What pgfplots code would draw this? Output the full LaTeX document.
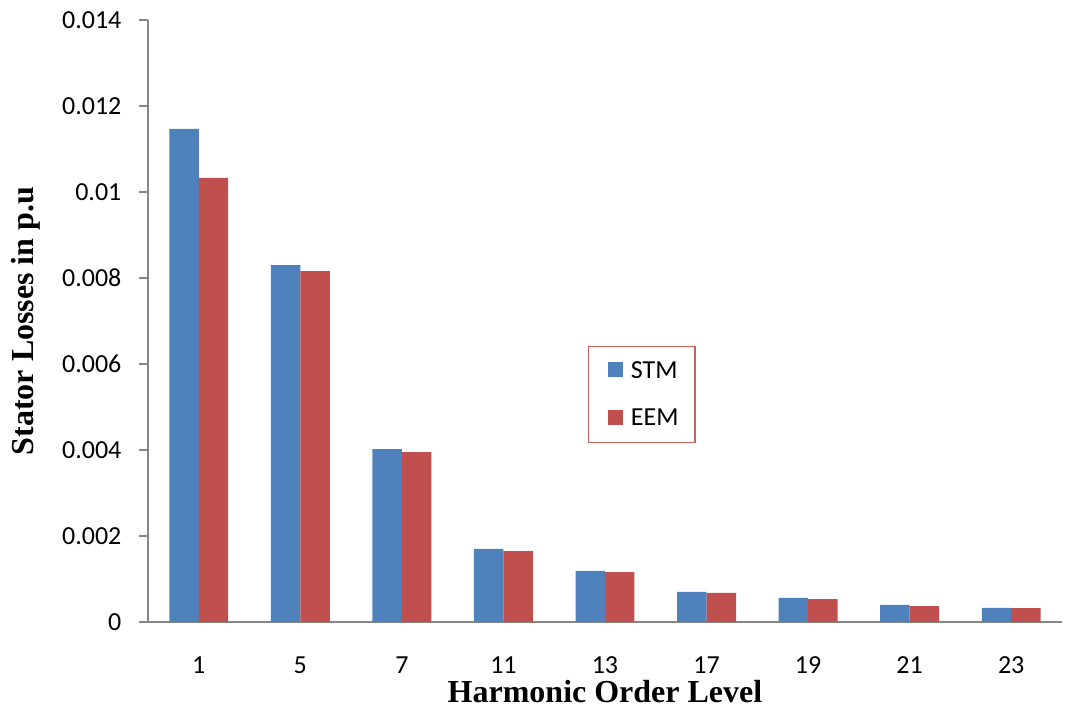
\documentclass[border=0pt]{standalone}
\usepackage{pgfplots}
\pgfplotsset{compat=1.18}
\usepackage{fontspec}
\setmainfont{Carlito}
\newfontfamily\labelfont{Liberation Serif}
\definecolor{stmblue}{HTML}{4F81BD}
\definecolor{eemred}{HTML}{C0504D}
\definecolor{axisgray}{HTML}{868686}
\definecolor{legred}{RGB}{205,95,95}
\begin{document}
\begin{tikzpicture}[x=0.75pt,y=0.75pt]
\useasboundingbox (-148,-86) rectangle (917,622);
\begin{axis}[
  at={(0,0)}, anchor=south west,
  scale only axis, width=685.5pt, height=451.5pt,
  ybar=0pt, bar width=0.29,
  xmin=-0.5, xmax=8.5, ymin=0, ymax=0.014,
  scaled y ticks=false,
  xtick={0,...,8},
  xticklabels={1,5,7,11,13,17,19,21,23},
  ytick={0,0.002,0.004,0.006,0.008,0.01,0.012,0.014},
  yticklabels={0,0.002,0.004,0.006,0.008,0.01,0.012,0.014},
  axis lines*=left,
  axis line style={-, draw=axisgray, line width=1.2pt},
  tick align=outside,
  major tick length=6.75pt,
  xtick style={draw=none},
  ytick style={draw=axisgray, line width=1.2pt},
  tick label style={font=\fontsize{19.5}{22}\selectfont},
  xticklabel style={inner sep=0pt, anchor=north, yshift=-19pt},
  yticklabel style={inner sep=0pt, anchor=east, xshift=-13pt},
  xlabel={Harmonic Order Level},
  ylabel={Stator Losses in p.u},
  label style={font=\labelfont\bfseries\fontsize{24}{28}\selectfont},
  xlabel style={at={(axis description cs:0.5,-0.116)}, anchor=center, inner sep=0pt},
  ylabel style={at={(axis description cs:-0.1335,0.5)}, anchor=center},
  legend style={at={(0.481,0.4585)}, anchor=north west,
    draw=legred, line width=1pt, inner xsep=0pt, inner ysep=0pt,
    font=\fontsize{19.5}{22}\selectfont,
    nodes={inner sep=0pt, text width=48pt, minimum height=36pt, align=left}},
  legend cell align=left,
  legend image code/.code={
    \path[draw=none, fill=none] (0pt,0pt) rectangle (32pt,0.1pt);
    \path[#1, draw=none] (15pt,-4.8pt) rectangle (26pt,6.2pt);
  },
]
\addplot[fill=stmblue, draw=none] coordinates {
 (0,0.01147) (1,0.00830) (2,0.00402) (3,0.00170) (4,0.00119)
 (5,0.00070) (6,0.00056) (7,0.00040) (8,0.00033)};
\addplot[fill=eemred, draw=none] coordinates {
 (0,0.01033) (1,0.00816) (2,0.00395) (3,0.00165) (4,0.00116)
 (5,0.00068) (6,0.00053) (7,0.00037) (8,0.00032)};
\legend{STM,EEM}
\end{axis}
\end{tikzpicture}
\end{document}
